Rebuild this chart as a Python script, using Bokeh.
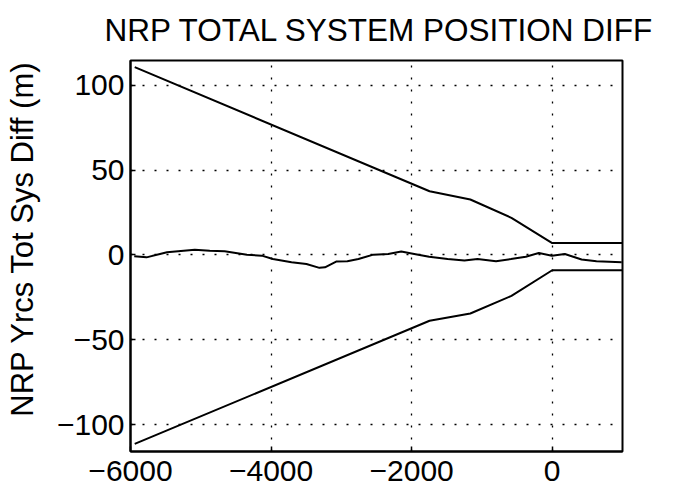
from bokeh.plotting import figure
from bokeh.models import Range1d, FixedTicker
from bokeh.embed import file_html
from bokeh.resources import INLINE

# ---- data ----
bound_x = [-5940, -1745, -1165, -580, 0, 1000]
upper_bound = [110.8, 37.6, 32.7, 21.9, 7.0, 7.0]
lower_bound = [-111.4, -38.8, -34.5, -24.1, -9.0, -9.0]

diff_x = [-5947, -5772, -5481, -5085, -4873, -4661, -4344, -4132, -3974, -3709,
          -3497, -3312, -3233, -3074, -2915, -2757, -2545, -2333, -2148, -1963,
          -1751, -1487, -1249, -1063, -799, -587, -376, -190, -5, 180, 418, 630, 989]
diff_y = [-0.8, -1.4, 1.6, 3.1, 2.5, 2.2, 0.2, -0.4, -2.4, -4.3,
          -5.3, -7.6, -7.3, -3.9, -3.7, -2.4, 0.2, 0.6, 2.0, 0.6,
          -1.0, -2.4, -3.3, -2.4, -3.7, -2.4, -1.0, 1.2, -0.4, 0.6, -2.7, -3.7, -4.3]

x_ticks = [-6000, -4000, -2000, 0]
x_tick_labels = ["\u22126000", "\u22124000", "\u22122000", "0"]
y_ticks = [-100, -50, 0, 50, 100]
y_tick_labels = ["\u2212100", "\u221250", "0", "50", "100"]

title_text = "NRP TOTAL SYSTEM POSITION DIFF"
y_label = "\u00a0\u00a0\u00a0\u00a0NRP Yrcs Tot Sys Diff (m)"

FONT = "Liberation Sans"

p = figure(width=681, height=495, output_backend="svg", toolbar_location=None,
           x_range=Range1d(-6000, 1000), y_range=Range1d(-115.9, 114.7),
           title=title_text,
           min_border_left=130, min_border_right=59,
           min_border_top=60, min_border_bottom=44)

p.background_fill_color = "white"
p.border_fill_color = "white"
p.outline_line_color = "black"
p.outline_line_width = 2

p.title.text_font = FONT
p.title.text_font_size = "31.5px"
p.title.text_font_style = "normal"
p.title.text_color = "black"
p.title.align = "left"
p.title.offset = -26
p.title.vertical_align = "top"
p.title.standoff = 22

for ax, ticks, labels in ((p.xaxis[0], x_ticks, x_tick_labels), (p.yaxis[0], y_ticks, y_tick_labels)):
    ax.ticker = FixedTicker(ticks=ticks)
    ax.major_label_overrides = {t: l for t, l in zip(ticks, labels)}
    ax.major_tick_in = 5
    ax.major_tick_out = 0
    ax.minor_tick_in = 0
    ax.minor_tick_out = 0
    ax.axis_line_width = 2
    ax.axis_line_color = "black"
    ax.major_tick_line_color = "black"
    ax.major_tick_line_width = 1.5
    ax.major_label_text_font = FONT
    ax.major_label_text_font_size = "30px"
    ax.major_label_text_color = "black"

p.xaxis.major_label_standoff = 9
p.yaxis.major_label_standoff = 6

p.yaxis.axis_label = y_label
p.yaxis.axis_label_text_font = FONT
p.yaxis.axis_label_text_font_size = "31px"
p.yaxis.axis_label_text_font_style = "normal"
p.yaxis.axis_label_text_color = "black"
p.yaxis.axis_label_standoff = 14

p.grid.grid_line_color = "black"
p.grid.grid_line_dash = "2 10"
p.grid.grid_line_width = 1.3
p.grid.grid_line_alpha = 1.0
p.xgrid.ticker = FixedTicker(ticks=x_ticks)
p.ygrid.ticker = FixedTicker(ticks=y_ticks)

p.line(bound_x, upper_bound, line_color="black", line_width=2)
p.line(bound_x, lower_bound, line_color="black", line_width=2)
p.line(diff_x, diff_y, line_color="black", line_width=2)

open("out.html", "w").write(file_html(p, INLINE))
